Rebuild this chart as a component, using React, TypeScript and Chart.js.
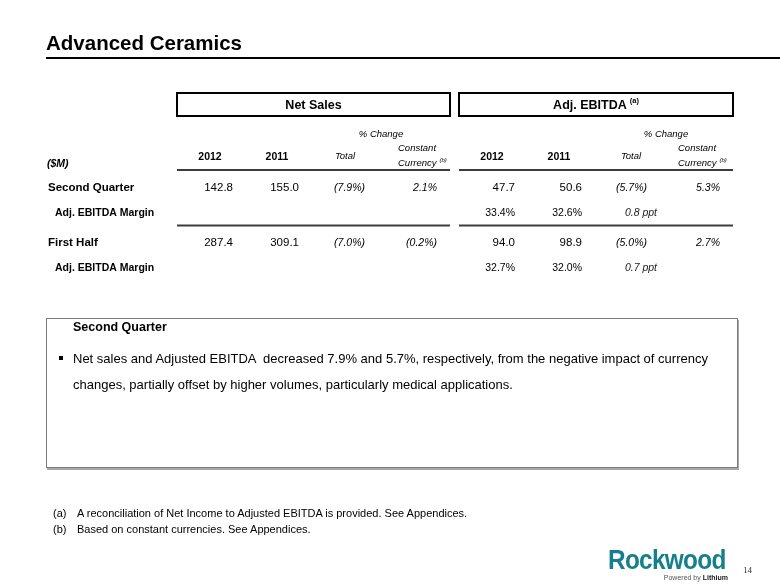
import React, { useEffect, useRef } from "react";
import { Chart, registerables } from "chart.js";

Chart.register(...registerables);

// ---------- data ----------
const slideTitle = "Advanced Ceramics";
const groupTitles = ["Net Sales", "Adj. EBITDA"];
const columnHeaders = ["2012", "2011", "Total", "Constant"];
const rowLabels = ["Second Quarter", "Adj. EBITDA Margin", "First Half", "Adj. EBITDA Margin"];

const netSales2012 = [142.8, 287.4];
const netSales2011 = [155.0, 309.1];
const netSalesTotalChange = [-7.9, -7.0];
const netSalesConstCurrency = [2.1, -0.2];

const ebitda2012 = [47.7, 94.0];
const ebitda2011 = [50.6, 98.9];
const ebitdaTotalChange = [-5.7, -5.0];
const ebitdaConstCurrency = [5.3, 2.7];

const margin2012 = [33.4, 32.7];
const margin2011 = [32.6, 32.0];
const marginChangePpt = [0.8, 0.7];

const commentHeading = "Second Quarter";
const commentLines = [
  "Net sales and Adjusted EBITDA  decreased 7.9% and 5.7%, respectively, from the negative impact of currency",
  "changes, partially offset by higher volumes, particularly medical applications.",
];
const footnotes = [
  ["(a)", "A reconciliation of Net Income to Adjusted EBITDA is provided. See Appendices."],
  ["(b)", "Based on constant currencies. See Appendices."],
];
const pageNumber = "14";

// ---------- helpers ----------
const FONT = '"Liberation Sans", Arial, Helvetica, sans-serif';
const pct = (v: number) => (v < 0 ? `(${Math.abs(v).toFixed(1)}%)` : `${v.toFixed(1)}%`);

function drawText(
  ctx: CanvasRenderingContext2D,
  s: string,
  x: number,
  yc: number,
  size: number,
  opts: { weight?: string; style?: string; align?: CanvasTextAlign; color?: string } = {}
) {
  ctx.font = `${opts.style || "normal"} ${opts.weight || "normal"} ${size}px ${FONT}`;
  ctx.textAlign = opts.align || "left";
  ctx.textBaseline = "alphabetic";
  ctx.fillStyle = opts.color || "#000";
  ctx.fillText(s, x, yc + 0.358 * size);
  return ctx.measureText(s).width;
}

const tablePlugin = {
  id: "tablePlugin",
  afterDraw(chart: any) {
    const ctx: CanvasRenderingContext2D = chart.ctx;
    const X = (v: number) => chart.scales.x.getPixelForValue(v);
    const Y = (v: number) => chart.scales.y.getPixelForValue(v);
    ctx.save();

    // group header boxes
    const boxes = [
      [177, 450],
      [459, 733],
    ];
    boxes.forEach(([a, b], i) => {
      ctx.strokeStyle = "#000";
      ctx.lineWidth = 2;
      ctx.strokeRect(X(a), Y(93), X(b) - X(a), Y(116) - Y(93));
      const cx = (X(a) + X(b)) / 2;
      const cy = Y(104.5);
      if (i === 0) {
        drawText(ctx, groupTitles[0], cx, cy, 12.5, { weight: "bold", align: "center" });
      } else {
        ctx.font = `bold 12.5px ${FONT}`;
        const w1 = ctx.measureText(groupTitles[1]).width;
        ctx.font = `bold 7.5px ${FONT}`;
        const w2 = ctx.measureText("(a)").width;
        const start = cx - (w1 + 3 + w2) / 2;
        drawText(ctx, groupTitles[1], start, cy, 12.5, { weight: "bold" });
        drawText(ctx, "(a)", start + w1 + 3, cy - 4, 7.5, { weight: "bold" });
      }
    });

    // % Change
    drawText(ctx, "% Change", X(381), Y(134), 9.5, { style: "italic", align: "center" });
    drawText(ctx, "% Change", X(666), Y(134), 9.5, { style: "italic", align: "center" });

    // column headers
    const groups = [
      { c2012: 210, c2011: 277, total: 345, constLeft: 398, v2012: 233, v2011: 299, vTotal: 365, vConst: 437 },
      { c2012: 492, c2011: 559, total: 631, constLeft: 678, v2012: 515, v2011: 582, vTotal: 647, vConst: 720 },
    ];
    drawText(ctx, "($M)", X(47), Y(163), 10.5, { weight: "bold", style: "italic" });
    groups.forEach((g) => {
      drawText(ctx, columnHeaders[0], X(g.c2012), Y(156), 10.5, { weight: "bold", align: "center" });
      drawText(ctx, columnHeaders[1], X(g.c2011), Y(156), 10.5, { weight: "bold", align: "center" });
      drawText(ctx, columnHeaders[2], X(g.total), Y(156), 9.5, { style: "italic", align: "center" });
      drawText(ctx, columnHeaders[3], X(g.constLeft), Y(148), 9.5, { style: "italic" });
      const w = drawText(ctx, "Currency", X(g.constLeft), Y(163), 9.5, { style: "italic" });
      drawText(ctx, "(b)", X(g.constLeft) + w + 3, Y(159.5), 6, { style: "italic" });
    });

    // rules
    [170, 225.5].forEach((y) => {
      boxes.forEach(([a, b]) => {
        ctx.strokeStyle = "#3c3c3c";
        ctx.lineWidth = 2;
        ctx.beginPath();
        ctx.moveTo(X(a), Y(y));
        ctx.lineTo(X(b), Y(y));
        ctx.stroke();
      });
    });

    // rows
    const mainRowY = [187, 242];
    const marginRowY = [212, 267];
    [0, 1].forEach((i) => {
      drawText(ctx, rowLabels[i * 2], X(48), Y(mainRowY[i]), 11.5, { weight: "bold" });
      drawText(ctx, rowLabels[i * 2 + 1], X(55), Y(marginRowY[i]), 10.5, { weight: "bold" });
      const g0 = groups[0];
      const g1 = groups[1];
      const y = Y(mainRowY[i]);
      drawText(ctx, netSales2012[i].toFixed(1), X(g0.v2012), y, 11.5, { align: "right" });
      drawText(ctx, netSales2011[i].toFixed(1), X(g0.v2011), y, 11.5, { align: "right" });
      drawText(ctx, pct(netSalesTotalChange[i]), X(g0.vTotal), y, 10.5, { style: "italic", align: "right" });
      drawText(ctx, pct(netSalesConstCurrency[i]), X(g0.vConst), y, 10.5, { style: "italic", align: "right" });
      drawText(ctx, ebitda2012[i].toFixed(1), X(g1.v2012), y, 11.5, { align: "right" });
      drawText(ctx, ebitda2011[i].toFixed(1), X(g1.v2011), y, 11.5, { align: "right" });
      drawText(ctx, pct(ebitdaTotalChange[i]), X(g1.vTotal), y, 10.5, { style: "italic", align: "right" });
      drawText(ctx, pct(ebitdaConstCurrency[i]), X(g1.vConst), y, 10.5, { style: "italic", align: "right" });
      const my = Y(marginRowY[i]);
      drawText(ctx, `${margin2012[i].toFixed(1)}%`, X(g1.v2012), my, 10.5, { align: "right" });
      drawText(ctx, `${margin2011[i].toFixed(1)}%`, X(g1.v2011), my, 10.5, { align: "right" });
      drawText(ctx, `${marginChangePpt[i].toFixed(1)} ppt`, X(657), my, 10.5, { style: "italic", align: "right", color: "#222" });
    });

    ctx.restore();
  },
};

function Abs(props: { left: number; top: number; size: number; children: any; style?: any }) {
  return (
    <div
      style={{
        position: "absolute",
        left: props.left,
        top: props.top,
        fontSize: props.size,
        lineHeight: `${props.size}px`,
        whiteSpace: "nowrap",
        fontFamily: FONT,
        color: "#000",
        ...(props.style || {}),
      }}
    >
      {props.children}
    </div>
  );
}

// top for a line whose cap-centre is at yc (line-height == font size)
const topFor = (yc: number, size: number) => yc + 0.358 * size - 0.8465 * size;

export default function App() {
  const canvasRef = useRef<HTMLCanvasElement | null>(null);

  useEffect(() => {
    if (!canvasRef.current) return;
    const chart = new Chart(canvasRef.current, {
      type: "scatter",
      data: { datasets: [] },
      options: {
        animation: false,
        responsive: false,
        events: [],
        layout: { padding: 0 },
        plugins: { legend: { display: false }, tooltip: { enabled: false } },
        scales: {
          x: { type: "linear", min: 0, max: 780, display: false },
          y: { type: "linear", min: 0, max: 585, reverse: true, display: false },
        },
      },
      plugins: [tablePlugin],
    } as any);
    return () => chart.destroy();
  }, []);

  return (
    <div
      style={{
        position: "fixed",
        left: 0,
        top: 0,
        width: 780,
        height: 585,
        background: "#fff",
        overflow: "hidden",
      }}
    >
      <canvas
        ref={canvasRef}
        width={780}
        height={585}
        style={{ position: "absolute", left: 0, top: 0, width: 780, height: 585 }}
      />
      {/* title */}
      <Abs left={46} top={50 - 0.8465 * 20.5} size={20.5} style={{ fontWeight: "bold" }}>
        {slideTitle}
      </Abs>
      <div style={{ position: "absolute", left: 46, top: 57, width: 734, height: 2, background: "#000" }} />

      {/* commentary box */}
      <div
        style={{
          position: "absolute",
          left: 46,
          top: 318,
          width: 690,
          height: 148,
          border: "1px solid #7a7a7a",
          boxShadow: "1px 2px 0 #a8a8a8",
        }}
      />
      <Abs left={73} top={topFor(327, 12.5)} size={12.5} style={{ fontWeight: "bold" }}>
        {commentHeading}
      </Abs>
      <div style={{ position: "absolute", left: 59, top: 356, width: 4, height: 4, background: "#000" }} />
      {commentLines.map((l, i) => (
        <Abs key={i} left={73} top={topFor(358 + i * 26, 13)} size={13} style={{ whiteSpace: "pre" }}>
          {l}
        </Abs>
      ))}

      {/* footnotes */}
      {footnotes.map(([m, t], i) => (
        <React.Fragment key={i}>
          <Abs left={53} top={topFor(513 + i * 16, 11)} size={11}>
            {m}
          </Abs>
          <Abs left={77} top={topFor(513 + i * 16, 11)} size={11}>
            {t}
          </Abs>
        </React.Fragment>
      ))}

      {/* logo */}
      <Abs
        left={608}
        top={570 - 0.8465 * 28}
        size={28}
        style={{
          fontWeight: "bold",
          color: "#15808c",
          letterSpacing: "-0.8px",
          transform: "scaleX(0.87)",
          transformOrigin: "0 0",
        }}
      >
        Rockwood
      </Abs>
      <Abs
        left={0}
        top={579.5 - 0.8465 * 7}
        size={7}
        style={{ width: 728, textAlign: "right", color: "#555" }}
      >
        Powered by <span style={{ fontWeight: "bold", color: "#222" }}>Lithium</span>
      </Abs>
      <Abs
        left={743}
        top={565.5}
        size={9}
        style={{ fontFamily: '"Liberation Serif", "Times New Roman", serif', color: "#333" }}
      >
        {pageNumber}
      </Abs>
    </div>
  );
}
